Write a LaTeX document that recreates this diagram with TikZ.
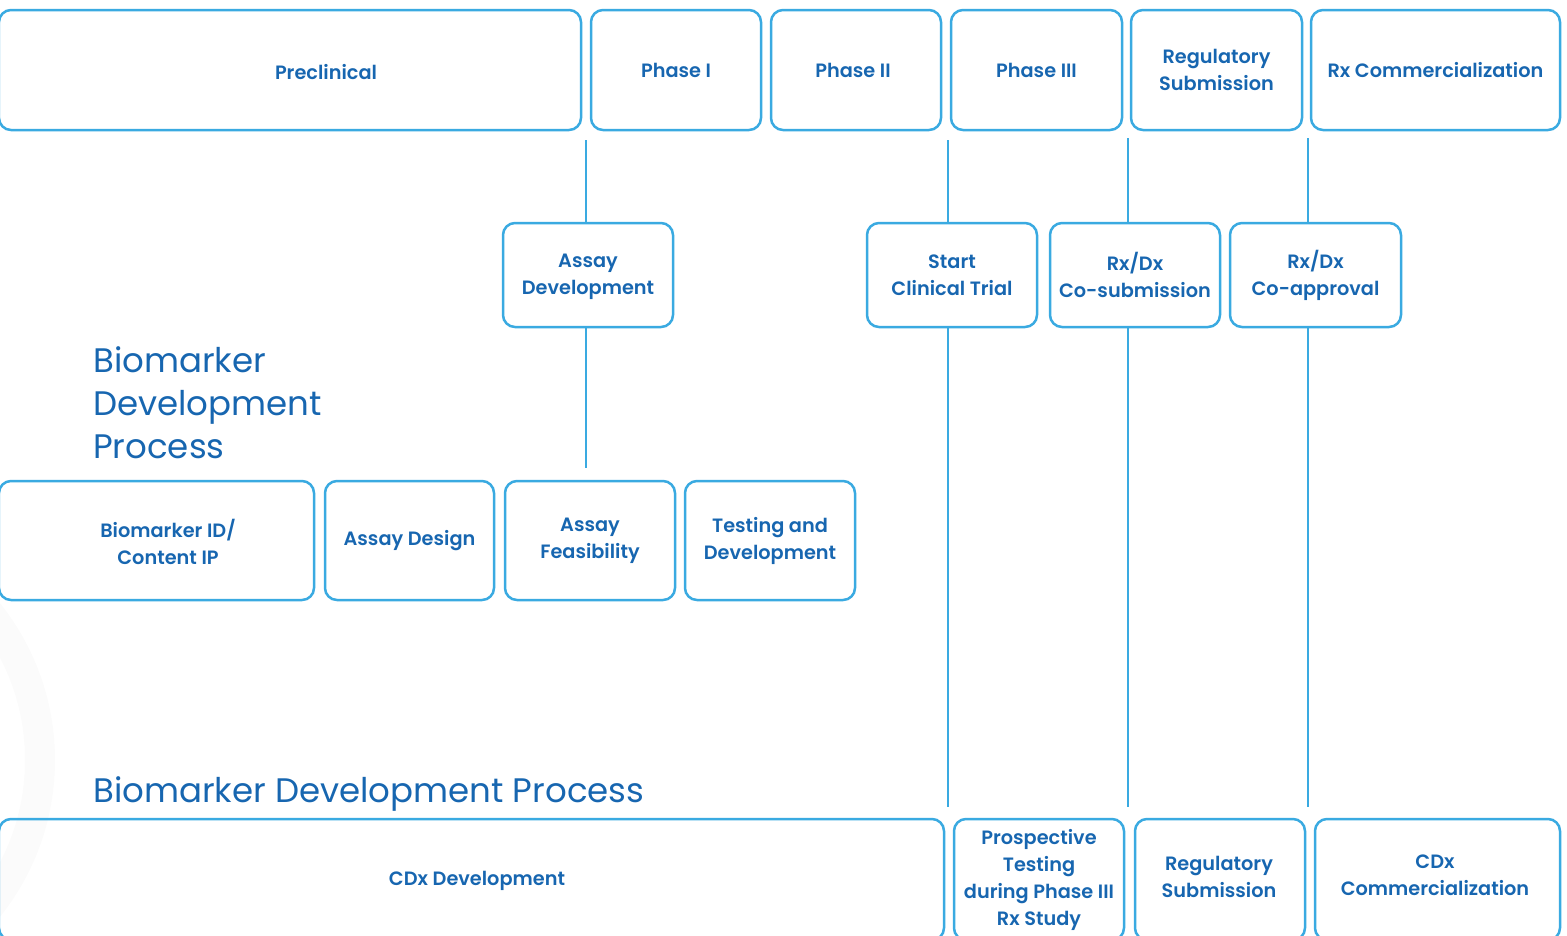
\documentclass[tikz,border=0pt]{standalone}
\usepackage{fontspec}
\setmainfont{Poppins}[BoldFont={Poppins SemiBold}]
\definecolor{edge}{HTML}{3AAAE1}
\definecolor{ink}{HTML}{1766B0}
\definecolor{haze}{HTML}{FBFBFB}

\begin{document}
\begin{tikzpicture}[x=1pt, y=-1pt,
  frame/.style={draw=edge, line width=2.5pt, rounded corners=12pt, inner sep=0pt,
    align=center, text=ink, font=\bfseries\fontsize{19.3}{27}\selectfont},
  caption/.style={align=center, text=ink, inner sep=0pt, font=\bfseries\fontsize{19.3}{27}\selectfont},
  heading/.style={text=ink, inner sep=0pt, align=left, anchor=base west, font=\fontsize{34}{43}\selectfont},
  link/.style={draw=edge, line width=2.5pt}]
\useasboundingbox (0,0) rectangle (1567,935);
\clip (0,0) rectangle (1567,935);

% faint background ring
\draw[haze, line width=30pt] (-196,760) circle (236);

% drug development phases
\node[frame, minimum width=582pt, minimum height=120pt] (pre) at (290,70) {};
\node[caption] (pretxt) at (326,72) {Preclinical};
\node[frame, minimum width=170pt, minimum height=120pt] (ph1) at (676,70) {Phase I};
\node[frame, minimum width=170pt, minimum height=120pt] (ph2) at (856,70) {};
\node[caption] (ph2txt) at (853,70) {Phase II};
\node[frame, minimum width=171pt, minimum height=120pt] (ph3) at (1036.5,70) {Phase III};
\node[frame, minimum width=171pt, minimum height=120pt] (reg) at (1216.5,70) {Regulatory\\Submission};
\node[frame, minimum width=249pt, minimum height=120pt] (rxc) at (1435.5,70) {Rx Commercialization};

% milestones
\node[frame, minimum width=170pt, minimum height=104pt] (ad) at (588,275) {};
\node[caption] (adtxt) at (588,277) {Assay\\Development};
\node[frame, minimum width=170pt, minimum height=104pt] (sct) at (952,275) {Start\\Clinical Trial};
\node[frame, minimum width=170pt, minimum height=104pt] (cosub) at (1135,275) {Rx/Dx\\Co-submission};
\node[frame, minimum width=171pt, minimum height=104pt] (coap) at (1315.5,275) {Rx/Dx\\Co-approval};

% biomarker development steps
\node[heading] (bdp) at (93,458) {Biomarker\\Development\\Process};
\node[frame, minimum width=315pt, minimum height=119pt] (bid) at (156.5,540.5) {};
\node[caption] (bidtxt) at (168,542) {Biomarker ID/\\Content IP};
\node[frame, minimum width=169pt, minimum height=119pt] (ades) at (409.5,540.5) {Assay Design};
\node[frame, minimum width=170pt, minimum height=119pt] (afeas) at (590,540.5) {Assay\\Feasibility};
\node[frame, minimum width=170pt, minimum height=119pt] (tdev) at (770,540.5) {Testing and\\Development};

% companion diagnostic steps
\node[heading] (bdp2) at (93,802) {Biomarker Development Process};
\node[frame, minimum width=945pt, minimum height=121pt] (cdx) at (471.5,879.5) {};
\node[caption] (cdxtxt) at (477,881) {CDx Development};
\node[frame, minimum width=170pt, minimum height=121pt] (pros) at (1039,879.5) {Prospective\\Testing\\during Phase III\\Rx Study};
\node[frame, minimum width=170pt, minimum height=121pt] (reg2) at (1220,879.5) {};
\node[caption] (reg2txt) at (1219,876.5) {Regulatory\\Submission};
\node[frame, minimum width=245pt, minimum height=121pt] (cdxc) at (1437.5,879.5) {};
\node[caption] (cdxctxt) at (1435,875.5) {CDx\\Commercialization};

% connectors
\coordinate (a0) at (586,140);
\coordinate (a1) at (586,468);
\draw[link] (a0) -- (a0 |- ad.north);
\draw[link] (a0 |- ad.south) -- (a1);

\coordinate (b0) at (948,140);
\draw[link] (b0) -- (b0 |- sct.north);
\draw[link] (b0 |- sct.south) -- ([yshift=11pt]b0 |- cdx.north);

\coordinate (c0) at (1128,138);
\draw[link] (c0) -- (c0 |- cosub.north);
\draw[link] (c0 |- cosub.south) -- ([yshift=11pt]c0 |- cdx.north);

\coordinate (d0) at (1308,138);
\draw[link] (d0) -- (d0 |- coap.north);
\draw[link] (d0 |- coap.south) -- ([yshift=11pt]d0 |- cdx.north);
\end{tikzpicture}
\end{document}
